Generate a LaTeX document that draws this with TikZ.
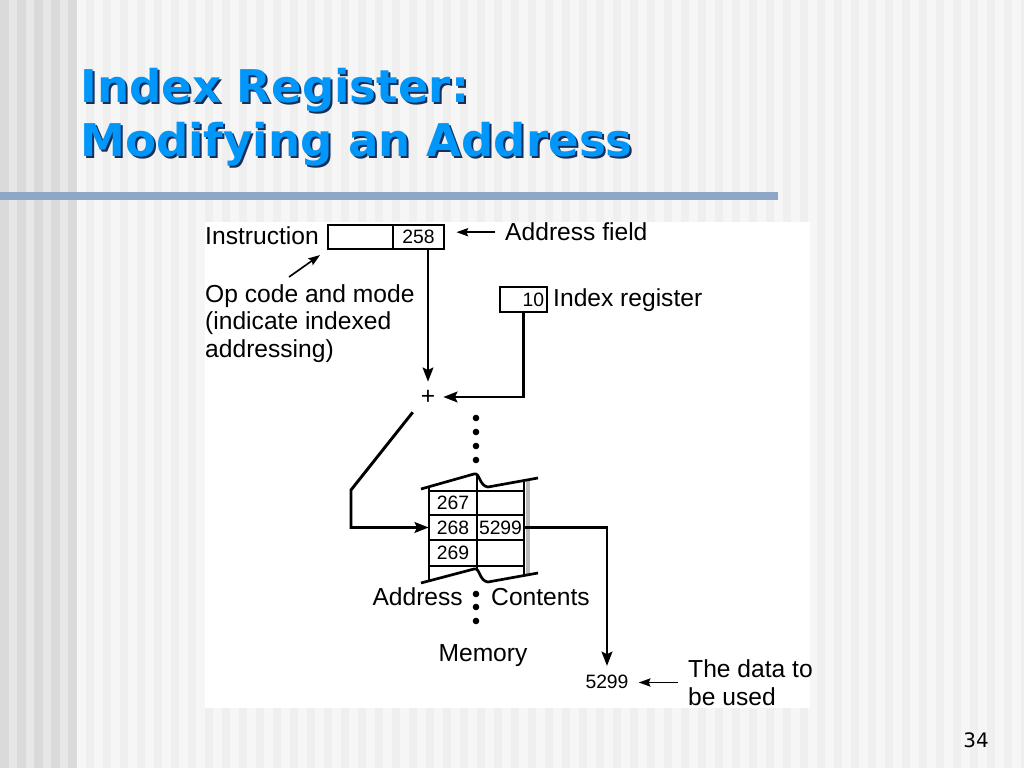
\documentclass[tikz,border=0pt]{standalone}
\usepackage{fontspec}
\setmainfont{Liberation Sans}
\newfontfamily\titlefont{DejaVu Sans}
\definecolor{titleblue}{RGB}{0, 150, 250}
\definecolor{titleshade}{RGB}{25, 45, 85}
\definecolor{barblue}{RGB}{142, 167, 198}
\definecolor{stripeA}{RGB}{239, 239, 239}
\definecolor{stripeB}{RGB}{246, 246, 246}
\definecolor{stripeC}{RGB}{231, 231, 231}
\definecolor{stripeD}{RGB}{218, 218, 218}
\definecolor{memshade}{RGB}{185, 185, 185}
\usepackage{tikz}
\usetikzlibrary{arrows.meta, positioning, calc}
\newcommand{\lblfont}{\fontsize{21}{23.5}\selectfont}
\newcommand{\numfont}{\fontsize{16.5}{18}\selectfont}

\begin{document}
\begin{tikzpicture}[x=0.03cm, y=-0.03cm,
  lbl/.style={inner sep=0pt, font=\lblfont, anchor=base west},
  regbox/.style={draw, line width=2.5pt, minimum height=0.72cm, inner sep=0pt, font=\numfont},
  cell/.style={minimum height=0.74cm, inner sep=0pt, font=\numfont},
  grid/.style={line width=2.3pt},
  arr/.style={line width=2.5pt, -{Stealth[length=12pt, width=9pt, inset=2pt]}},
  thinarr/.style={line width=1.4pt, -{Stealth[length=10pt, width=7pt, inset=1.5pt]}},
  headline/.style={inner sep=0pt, anchor=base west, font=\titlefont\bfseries\fontsize{38.5}{46}\selectfont}]
  \useasboundingbox (0,0) rectangle (1024,768);

  % Slide background
  \fill[stripeA] (0,0) rectangle (1024,768);
  \foreach \x in {77,94,...,1020} \fill[stripeB] (\x,0) rectangle (\x+8.5,768);
  \fill[stripeC] (0,0) rectangle (77,768);
  \foreach \x in {0,17,...,68} \fill[stripeD] (\x,0) rectangle (\x+8.5,768);
  \fill[barblue] (0,192) rectangle (778,200);
  \fill[white] (205,222) rectangle (810,708);

  % Title
  \node[headline, text=titleshade] (title1s) at (82,105) {Index Register:};
  \node[headline, text=titleblue] (title1) at (80,103) {Index Register:};
  \node[headline, text=titleshade] (title2s) at (82,159) {Modifying an Address};
  \node[headline, text=titleblue] (title2) at (80,157) {Modifying an Address};
  \node[inner sep=0pt, anchor=base, font=\titlefont\fontsize{17}{19}\selectfont] (pagenum) at (976,747) {34};

  % Instruction and index register
  \node[lbl] (instrlbl) at (205,245) {Instruction};
  \node[regbox, minimum width=1.95cm] (opfield) at (360.5,237) {};
  \node[regbox, minimum width=1.53cm] (adrfield) at (418.5,237) {258};
  \node[lbl] (adrlbl) at (505,241) {Address field};
  \node[lbl, anchor=north west, align=left] (opcode) at (205,284) {Op code and mode\\(indicate indexed\\addressing)};
  \coordinate (optail) at (289,277);
  \node[regbox, minimum width=1.41cm, minimum height=0.75cm, inner sep=2pt, text width=1.23cm, align=right] (idx) at (523.5,299.5) {10};
  \node[lbl] (idxlbl) at (553,307) {Index register};
  \node[inner sep=0pt, minimum size=0.9cm, font=\lblfont] (plus) at (428,397) {+};

  % Memory
  \fill[memshade] (526,481) rectangle (530,575);
  \foreach \y in {491,515,540,566} \draw[grid] (429,\y) -- (524,\y);
  \draw[grid] (421,489) -- (474,474) .. controls (480,472) and (479,486) .. (488,487) -- (538,478);
  \draw[grid] (421,583) -- (474,569) .. controls (480,567) and (479,581) .. (488,582) -- (538,573);
  \draw[grid] (429,486.7) -- (429,581);
  \draw[grid] (477,474.5) -- (477,569.5);
  \draw[grid] (524,480.5) -- (524,575.5);
  \node[cell, minimum width=1.44cm] (m267) at (453,503) {267};
  \node[cell, minimum width=1.44cm] (m268) at (453,527.5) {268};
  \node[cell, minimum width=1.44cm] (m269) at (453,553) {269};
  \node[cell, minimum width=1.41cm] (c268) at (500.5,527.5) {5299};
  \foreach \y in {418,432,446,460,594,607,621} \fill (476,\y) circle (2.8pt);
  \node[lbl, anchor=base east] (adrcol) at (463,605) {Address};
  \node[lbl] (contcol) at (491,605) {Contents};
  \node[lbl, anchor=base] (memlbl) at (483,661) {Memory};
  \node[inner sep=0pt, font=\numfont] (data) at (607,682) {5299};
  \node[lbl, anchor=west, align=left] (datalbl) at (688,682.5) {The data to\\be used};

  % Connectors
  \draw[thinarr, shorten <=0.3cm, shorten >=0.33cm] (adrlbl.west) -- (adrlbl.west -| adrfield.east);
  \draw[thinarr, shorten >=0.24cm] (optail) -- (opfield.south west);
  \draw[arr] (adrfield.south -| plus) -- (plus.north);
  \draw[arr] (idx.south) |- (plus.east);
  \draw[arr] (plus.south west) -- (351,490) |- (m268.west);
  \draw[arr, shorten >=0.27cm] (c268.east) -| (data.north);
  \draw[thinarr, shorten <=0.3cm, shorten >=0.3cm] (datalbl.west) -- (datalbl.west -| data.east);
\end{tikzpicture}
\end{document}
